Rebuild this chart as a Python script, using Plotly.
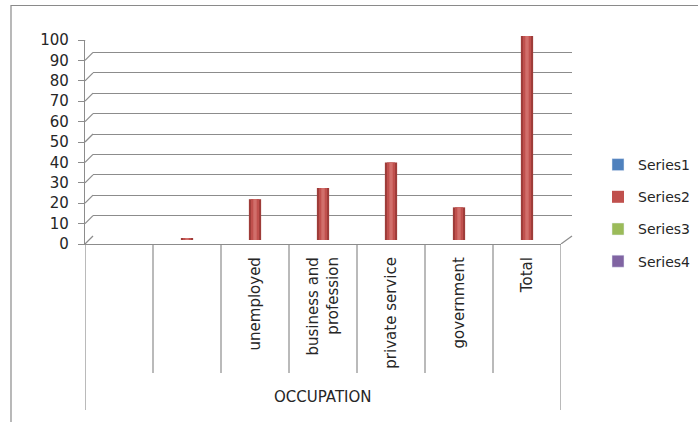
import plotly.graph_objects as go

# ---- data ----
categories = ["", " ", "unemployed", "business and<br>profession", "private service", "government", "Total"]
series_names = ["Series1", "Series2", "Series3", "Series4"]
series2_values = [None, 0.5, 20, 25.5, 38, 16, 100]
empty_values = [None] * 7
y_ticks = [0, 10, 20, 30, 40, 50, 60, 70, 80, 90, 100]
axis_title = "OCCUPATION"
series_colors = ["#4F81BD", "#C0504D", "#9BBB59", "#8064A2"]

# ---- layout geometry (pixels) ----
W, H = 698, 422
L, R, T, B = 85, 572, 32, 244          # plot area box (front-left to back-right)
PW, PH = R - L, B - T
DEPTH_X, DEPTH_Y = 8, 8                 # 3D depth offset of the back wall
FRONT_R = 561                           # right end of front floor edge


def px_x(p):
    return (p - L) / PW


def px_y(p):
    return (B - p) / PH


FONT = "DejaVu Sans"
TXT = "#262626"
GRID = "#8c8c8c"
positions = list(range(len(categories)))

fig = go.Figure()

# Series (only Series2 has data); shading layers emulate the cylinder look.
# Series1 (empty) sits on the back-wall subplot so that subplot (with its gridlines) is drawn.
fig.add_trace(go.Bar(x=positions, y=empty_values, name=series_names[0], legendgroup="s1",
                     marker_color=series_colors[0], xaxis="x", yaxis="y"))
fig.add_trace(go.Bar(x=positions, y=series2_values, name=series_names[1], legendgroup="s2",
                     showlegend=False, width=0.18, marker=dict(color="#9E3C39", line_width=0),
                     xaxis="x2", yaxis="y3", hoverinfo="skip"))
fig.add_trace(go.Bar(x=positions, y=series2_values, name=series_names[1], legendgroup="s2",
                     width=0.12, marker=dict(color=series_colors[1], line_width=0),
                     xaxis="x2", yaxis="y3"))
fig.add_trace(go.Bar(x=positions, y=series2_values, name=series_names[1], legendgroup="s2",
                     showlegend=False, width=0.05, marker=dict(color="#D16F6B", line_width=0),
                     xaxis="x2", yaxis="y3", hoverinfo="skip"))
fig.add_trace(go.Bar(x=positions, y=empty_values, name=series_names[2], legendgroup="s3",
                     marker_color=series_colors[2], xaxis="x2", yaxis="y3"))
fig.add_trace(go.Bar(x=positions, y=empty_values, name=series_names[3], legendgroup="s4",
                     marker_color=series_colors[3], xaxis="x2", yaxis="y3"))

shapes = []
# slanted connectors from front ticks to back wall gridlines
for v in y_ticks:
    shapes.append(dict(type="line", xref="paper", x0=0, x1=px_x(L + DEPTH_X),
                       yref="y2", ysizemode="pixel", yanchor=v, y0=0, y1=DEPTH_Y,
                       line=dict(color=GRID, width=1.2)))
# right floor slant
shapes.append(dict(type="line", xref="paper", x0=px_x(FRONT_R), x1=1,
                   yref="y2", ysizemode="pixel", yanchor=0, y0=0, y1=DEPTH_Y,
                   line=dict(color=GRID, width=1.2)))
# category dividers below the axis
n = len(categories)
for i in range(n + 1):
    b = i - 0.5
    depth = 166 if i in (0, n) else 129
    shapes.append(dict(type="line", xref="x2", x0=b, x1=b,
                       yref="paper", ysizemode="pixel", yanchor=0, y0=0, y1=-depth,
                       line=dict(color=GRID, width=1.2)))
# outer chart border
shapes.append(dict(type="rect", xref="paper", yref="paper",
                   x0=px_x(11), x1=px_x(W + 5), y0=px_y(H + 5), y1=px_y(5.5),
                   line=dict(color="#8a8a8a", width=1.2), fillcolor="rgba(0,0,0,0)"))

fig.update_layout(
    width=W, height=H,
    margin=dict(l=L, r=W - R, t=T, b=H - B, pad=0, autoexpand=False),
    paper_bgcolor="white", plot_bgcolor="rgba(0,0,0,0)",
    barmode="overlay",
    font=dict(family=FONT, size=15, color=TXT),
    showlegend=True,
    legend=dict(x=px_x(598), y=px_y(149), xanchor="left", yanchor="top",
                font=dict(family=FONT, size=14, color=TXT),
                tracegroupgap=11, bgcolor="rgba(0,0,0,0)", traceorder="grouped"),
    # back wall
    xaxis=dict(domain=[px_x(L + DEPTH_X), 1], range=[-0.5, n - 0.5], anchor="y",
               showgrid=False, showline=False, zeroline=False, showticklabels=False, ticks=""),
    yaxis=dict(domain=[DEPTH_Y / PH, 1], range=[0, 100], anchor="x",
               tickvals=y_ticks, showgrid=True, gridcolor=GRID, gridwidth=1.2,
               showline=False, zeroline=False, showticklabels=False, ticks=""),
    # front axes
    xaxis2=dict(domain=[0, px_x(FRONT_R)], range=[-0.5, n - 0.5], anchor="y2",
                tickvals=positions, ticktext=categories, tickangle=-90,
                showline=True, linecolor=GRID, linewidth=1.2, showgrid=False, zeroline=False,
                ticks="", ticklabelstandoff=6,
                tickfont=dict(family=FONT, size=15, color=TXT)),
    yaxis2=dict(domain=[0, 1 - DEPTH_Y / PH], range=[0, 100], anchor="x2",
                tickvals=y_ticks, showline=True, linecolor=GRID, linewidth=1.2,
                ticks="outside", ticklen=6, tickcolor=GRID, tickwidth=1.2,
                showgrid=False, zeroline=False, ticklabelstandoff=6,
                tickfont=dict(family=FONT, size=15, color=TXT)),
    # mid depth (bars)
    yaxis3=dict(domain=[DEPTH_Y / 2 / PH, 1 - DEPTH_Y / 2 / PH], range=[0, 100], anchor="x2",
                visible=False, showgrid=False),
    shapes=shapes,
    annotations=[dict(text=axis_title, xref="x2", x=(n - 1) / 2, yref="paper", y=0,
                      yshift=-153, showarrow=False, yanchor="middle",
                      font=dict(family=FONT, size=15, color=TXT))],
)

fig.write_html("out.html")
